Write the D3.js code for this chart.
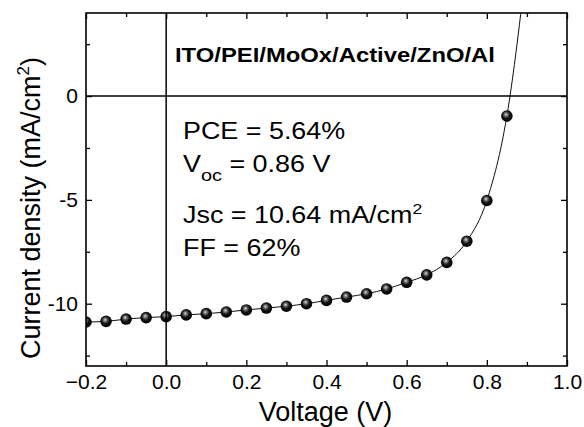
<!DOCTYPE html>
<html>
<head>
<meta charset="utf-8">
<script src="https://cdn.jsdelivr.net/npm/d3@7"></script>
<style>
	body { margin: 0; background: #fff; }
	text { font-family: Arial, "Liberation Sans", sans-serif; fill: #000; }
	.axis path, .axis line { stroke: #000; }
</style>
</head>
<body>
<svg class="chart"></svg>
<script>
(function() {

	// DATA
	var voltage = [-0.2, -0.15, -0.1, -0.05, 0.0, 0.05, 0.1, 0.15, 0.2, 0.25, 0.3, 0.35, 0.4, 0.45, 0.5, 0.55, 0.6, 0.65, 0.7, 0.75, 0.8, 0.85, 0.9]
	var current = [-10.88, -10.85, -10.74, -10.67, -10.62, -10.54, -10.48, -10.40, -10.30, -10.21, -10.12, -10.0, -9.84, -9.68, -9.52, -9.29, -8.97, -8.61, -8.01, -6.99, -5.03, -0.96, 6.5]
	var xTicks = [-0.2, 0.0, 0.2, 0.4, 0.6, 0.8, 1.0]
	var xMinor = [-0.1, 0.1, 0.3, 0.5, 0.7, 0.9]
	var yTicks = [-10, -5, 0]
	var yMinor = [-12.5, -7.5, -2.5, 2.5]
	var deviceLabel = 'ITO/PEI/MoOx/Active/ZnO/Al'

	//VARS
	var W = 584, H = 427
	var margin = { top: 13, bottom: 61, left: 86, right: 17 }
	var width = W - margin.left - margin.right
	var height = H - margin.top - margin.bottom
	var stretch = 1.17

	var svg = d3.select('.chart').attr('width', W).attr('height', H)
	var defs = svg.append('defs')

	var x = d3.scaleLinear().domain([-0.2, 1.0]).range([0, width])
	var y = d3.scaleLinear().domain([-13, 4]).range([height, 0])

	var points = voltage.map(function(v, i) { return { v: v, j: current[i] } })

	defs.append('clipPath').attr('id', 'plot-clip')
		.append('rect').attr('width', width).attr('height', height)

	var grad = defs.append('radialGradient').attr('id', 'ball')
		.attr('cx', '45%').attr('cy', '42%').attr('r', '58%')
		.attr('fx', '42%').attr('fy', '36%')
	grad.append('stop').attr('offset', '0%').attr('stop-color', '#e4e4e4')
	grad.append('stop').attr('offset', '22%').attr('stop-color', '#7a7a7a')
	grad.append('stop').attr('offset', '55%').attr('stop-color', '#141414')
	grad.append('stop').attr('offset', '100%').attr('stop-color', '#000')

	var g = svg.append('g').attr('transform', 'translate(' + margin.left + ',' + margin.top + ')')

	function tickAxis(axisFn, scale, ticks, size, showLabels) {
		return axisFn(scale)
			.tickValues(ticks)
			.tickSizeInner(-size)
			.tickSizeOuter(0)
			.tickPadding(8)
			.tickFormat(showLabels ? (scale === x ? d3.format('.1f') : function(d) { return d }) : '')
	}

	function drawAxes() {
		// minor ticks first, then majors with labels
		var sides = [
			{ fn: d3.axisBottom, s: x, t: 'translate(0,' + height + ')', major: xTicks, minor: xMinor, lab: true },
			{ fn: d3.axisTop, s: x, t: 'translate(0,0)', major: xTicks, minor: xMinor, lab: false },
			{ fn: d3.axisLeft, s: y, t: 'translate(0,0)', major: yTicks, minor: yMinor, lab: true },
			{ fn: d3.axisRight, s: y, t: 'translate(' + width + ',0)', major: yTicks, minor: yMinor, lab: false }
		]
		sides.forEach(function(side) {
			g.append('g').attr('class', 'axis')
				.attr('transform', side.t)
				.call(tickAxis(side.fn, side.s, side.minor, 4, false))
				.call(function(a) { a.select('.domain').remove() })
			var ax = g.append('g').attr('class', 'axis')
				.attr('transform', side.t)
				.call(tickAxis(side.fn, side.s, side.major, 6, side.lab))
			ax.select('.domain').remove()
			ax.selectAll('text').style('font-size', '21px')
		})
		g.selectAll('.axis line').attr('stroke-width', 1.3)
	}

	function drawFrame() {
		// zero lines
		g.append('line')
			.attr('x1', x(0)).attr('x2', x(0))
			.attr('y1', 0).attr('y2', height)
			.attr('stroke', '#000').attr('stroke-width', 1.5)
		g.append('line')
			.attr('x1', 0).attr('x2', width)
			.attr('y1', y(0)).attr('y2', y(0))
			.attr('stroke', '#000').attr('stroke-width', 1.5)

		g.append('rect')
			.attr('width', width).attr('height', height)
			.attr('fill', 'none').attr('stroke', '#000').attr('stroke-width', 1.6)
	}

	function drawData() {
		var line = d3.line()
			.x(function(d) { return x(d.v) })
			.y(function(d) { return y(d.j) })
			.curve(d3.curveMonotoneX)

		var plot = g.append('g').attr('clip-path', 'url(#plot-clip)')

		plot.append('path')
			.datum(points)
			.attr('d', line)
			.attr('fill', 'none')
			.attr('stroke', '#111')
			.attr('stroke-width', 1)

		plot.selectAll('.ball')
			.data(points)
			.enter()
			.append('circle')
			.attr('class', 'ball')
			.attr('cx', function(d) { return x(d.v) })
			.attr('cy', function(d) { return y(d.j) })
			.attr('r', 5.8)
			.attr('fill', 'url(#ball)')
	}

	function drawLabels() {
		svg.append('text')
			.attr('x', margin.left + width / 2 - 1)
			.attr('y', 421)
			.attr('text-anchor', 'middle')
			.style('font-size', '27px')
			.text('Voltage (V)')

		var yl = svg.append('text')
			.attr('transform', 'translate(40,208)rotate(-90)')
			.attr('text-anchor', 'middle')
			.style('font-size', '27px')
		yl.append('tspan').text('Current density (mA/cm')
		yl.append('tspan').attr('dy', -11).style('font-size', '17px').text('2')
		yl.append('tspan').attr('dy', 11).text(')')

		// inset
		svg.append('text')
			.attr('transform', 'translate(175,62)scale(' + 0.97 * stretch + ',1)')
			.style('font-size', '21px')
			.style('font-weight', 'bold')
			.text(deviceLabel)

		function inset(yPos) {
			return svg.append('text')
				.attr('transform', 'translate(183,' + yPos + ')scale(' + stretch + ',1)')
				.style('font-size', '23px')
		}

		inset(139).text('PCE = 5.64%')

		var voc = inset(172)
		voc.append('tspan').text('V')
		voc.append('tspan').attr('dy', 9).style('font-size', '17px').text('oc')
		voc.append('tspan').attr('dy', -9).text(' = 0.86 V')

		var jsc = inset(223)
		jsc.append('tspan').text('Jsc = 10.64 mA/cm')
		jsc.append('tspan').attr('dy', -9).style('font-size', '15px').text('2')

		inset(256).text('FF = 62%')
	}

	function init() {
		drawData()
		drawFrame()
		drawAxes()
		drawLabels()
	}

	init()
})()
</script>
</body>
</html>
